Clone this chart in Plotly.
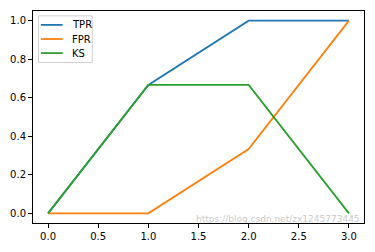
import plotly.graph_objects as go

x = [0, 1, 2, 3]
tpr = [0, 2/3, 1, 1]
fpr = [0, 0, 1/3, 1]
ks = [0, 2/3, 2/3, 0]

names = ["TPR", "FPR", "KS"]
colors = ["#1f77b4", "#ff7f0e", "#2ca02c"]

W, H = 375, 252
L, R, T, B = 30, 10, 10, 24
pw, ph = W - L - R, H - T - B

def px(xp):
    return (xp - L) / pw

def py(yp):
    return 1 - (yp - T) / ph

fig = go.Figure()
for name, ys, c in zip(names, [tpr, fpr, ks], colors):
    fig.add_trace(go.Scatter(x=x, y=ys, mode="lines", name=name, showlegend=False,
                             line=dict(color=c, width=1.8)))

axis_common = dict(showgrid=False, zeroline=False, showline=True, mirror=True,
                   linecolor="black", linewidth=1, ticks="outside", ticklen=4,
                   tickcolor="black", tickfont=dict(family="DejaVu Sans", size=10, color="black"))
fig.update_xaxes(range=[-0.15, 3.15], tickvals=[0, 0.5, 1, 1.5, 2, 2.5, 3],
                 ticktext=["0.0", "0.5", "1.0", "1.5", "2.0", "2.5", "3.0"], **axis_common)
fig.update_yaxes(range=[-0.05, 1.05], tickvals=[0, 0.2, 0.4, 0.6, 0.8, 1.0],
                 ticktext=["0.0", "0.2", "0.4", "0.6", "0.8", "1.0"], **axis_common)

# manual matplotlib-style legend
shapes = [dict(type="rect", xref="paper", yref="paper",
               x0=px(35.5), x1=px(90), y0=py(63), y1=py(15),
               line=dict(color="#d0d0d0", width=1), fillcolor="rgba(255,255,255,0.8)",
               layer="above")]
annotations = []
for i, (name, c) in enumerate(zip(names, colors)):
    yy = 24.3 + i * 14.5
    shapes.append(dict(type="line", xref="paper", yref="paper",
                       x0=px(38), x1=px(60), y0=py(yy), y1=py(yy),
                       line=dict(color=c, width=1.8), layer="above"))
    annotations.append(dict(text=name, xref="paper", yref="paper", x=px(67), y=py(yy),
                            xanchor="left", yanchor="middle", showarrow=False,
                            font=dict(family="DejaVu Sans", size=10, color="black")))

annotations.append(dict(text="https://blog.csdn.net/zx1245773445", xref="paper", yref="paper",
                        x=px(362), y=py(223.5), xanchor="right", yanchor="middle", showarrow=False,
                        borderpad=0, height=9, valign="middle",
                        font=dict(family="DejaVu Sans", size=9, color="rgba(175,175,175,0.7)")))

fig.update_layout(
    width=W, height=H,
    margin=dict(l=L, r=R, t=T, b=B),
    plot_bgcolor="white", paper_bgcolor="white",
    showlegend=False,
    shapes=shapes,
    annotations=annotations,
)

fig.write_html("out.html")
